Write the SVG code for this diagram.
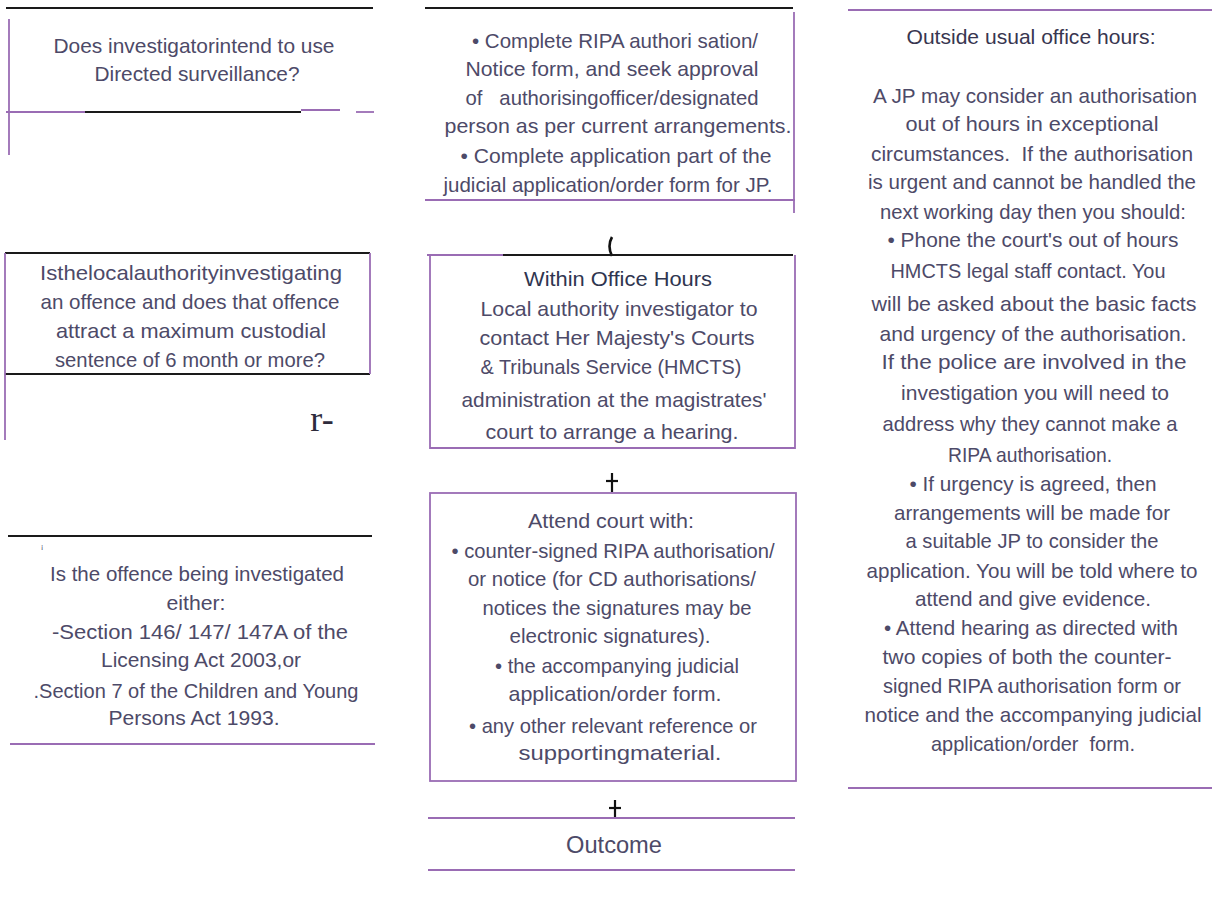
<svg xmlns="http://www.w3.org/2000/svg" width="1212" height="900" viewBox="0 0 1212 900">
<style>
text{font-family:"Liberation Sans",Arial,sans-serif;font-size:21px;fill:#4d4a68;text-anchor:middle;white-space:pre}
.k{stroke:#1a1a1a;stroke-width:2;fill:none}
.p{stroke:#9a6cb4;stroke-width:1.8;fill:none}
.ck{stroke:#111;stroke-width:2.2;fill:none}
</style>
<rect width="1212" height="900" fill="#fff"/>
<g id="connectors">
<line class="ck" x1="612" y1="473" x2="612" y2="492"/>
<line class="ck" x1="606" y1="481" x2="618" y2="481"/>
<line class="ck" x1="615" y1="800" x2="615" y2="818"/>
<line class="ck" x1="609" y1="808" x2="621" y2="808"/>
<path class="ck" style="stroke-width:2.6" d="M612 237 Q607 246 612 256"/>
</g>
<g id="node-directed">
<line class="k" x1="6" y1="8" x2="373" y2="8"/>
<line class="p" x1="9" y1="19" x2="9" y2="155"/>
<line class="p" x1="6" y1="112" x2="85" y2="112"/>
<line class="k" x1="85" y1="112" x2="301" y2="112"/>
<line class="p" x1="301" y1="110" x2="340" y2="110"/>
<line class="p" x1="356" y1="112" x2="374" y2="112"/>
<text x="194" y="53" textLength="281" lengthAdjust="spacingAndGlyphs">Does investigatorintend to use</text>
<text x="197" y="81" textLength="205" lengthAdjust="spacingAndGlyphs">Directed surveillance?</text>
</g>
<g id="node-offence">
<line class="k" x1="5" y1="253" x2="370" y2="253"/>
<line class="k" x1="5" y1="374" x2="370" y2="374"/>
<line class="p" x1="5" y1="253" x2="5" y2="440"/>
<line class="p" x1="370" y1="253" x2="370" y2="374"/>
<text x="191" y="280" textLength="302" lengthAdjust="spacingAndGlyphs">Isthelocalauthorityinvestigating</text>
<text x="190" y="309" textLength="299" lengthAdjust="spacingAndGlyphs">an offence and does that offence</text>
<text x="191" y="338" textLength="270" lengthAdjust="spacingAndGlyphs">attract a maximum custodial</text>
<text x="190" y="367" textLength="270" lengthAdjust="spacingAndGlyphs">sentence of 6 month or more?</text>
<text x="322" y="431" style="font-family:'Liberation Serif',serif;font-size:36px;fill:#2e2b3c">r-</text>
</g>
<g id="node-licensing">
<line class="k" x1="8" y1="536" x2="372" y2="536"/>
<text x="42" y="549" style="font-size:8px">¡</text>
<text x="197" y="581" textLength="294" lengthAdjust="spacingAndGlyphs">Is the offence being investigated</text>
<text x="196" y="610" textLength="59" lengthAdjust="spacingAndGlyphs">either:</text>
<text x="200" y="639" textLength="296" lengthAdjust="spacingAndGlyphs">-Section 146/ 147/ 147A of the</text>
<text x="201" y="667" textLength="200" lengthAdjust="spacingAndGlyphs">Licensing Act 2003,or</text>
<text x="196" y="698" textLength="325" lengthAdjust="spacingAndGlyphs">.Section 7 of the Children and Young</text>
<text x="194" y="725" textLength="171" lengthAdjust="spacingAndGlyphs">Persons Act 1993.</text>
<line class="p" x1="10" y1="744" x2="375" y2="744"/>
</g>
<g id="node-complete">
<line class="k" x1="425" y1="8" x2="793" y2="8"/>
<line class="p" x1="794" y1="12" x2="794" y2="213"/>
<line class="p" x1="425" y1="200" x2="795" y2="200"/>
<text x="615" y="48" textLength="286" lengthAdjust="spacingAndGlyphs">• Complete RIPA authori sation/</text>
<text x="612" y="76" textLength="293" lengthAdjust="spacingAndGlyphs">Notice form, and seek approval</text>
<text x="612" y="105" textLength="293" lengthAdjust="spacingAndGlyphs">of   authorisingofficer/designated</text>
<text x="618" y="133" textLength="347" lengthAdjust="spacingAndGlyphs">person as per current arrangements.</text>
<text x="616" y="163" textLength="311" lengthAdjust="spacingAndGlyphs">• Complete application part of the</text>
<text x="608" y="192" textLength="329" lengthAdjust="spacingAndGlyphs">judicial application/order form for JP.</text>
</g>
<g id="node-within">
<line class="p" x1="427" y1="255" x2="503" y2="255"/>
<line class="k" x1="503" y1="255" x2="793" y2="255"/>
<polyline class="p" points="430,255 430,448 795,448 795,255"/>
<text x="618" y="286" textLength="188" lengthAdjust="spacingAndGlyphs" style="fill:#2f3550">Within Office Hours</text>
<text x="619" y="316" textLength="277" lengthAdjust="spacingAndGlyphs">Local authority investigator to</text>
<text x="617" y="345" textLength="275" lengthAdjust="spacingAndGlyphs">contact Her Majesty's Courts</text>
<text x="611" y="374" textLength="261" lengthAdjust="spacingAndGlyphs">&amp; Tribunals Service (HMCTS)</text>
<text x="614" y="407" textLength="305" lengthAdjust="spacingAndGlyphs">administration at the magistrates'</text>
<text x="612" y="439" textLength="253" lengthAdjust="spacingAndGlyphs">court to arrange a hearing.</text>
</g>
<g id="node-attend">
<rect class="p" x="430" y="493" width="366" height="288"/>
<text x="611" y="528" textLength="166" lengthAdjust="spacingAndGlyphs">Attend court with:</text>
<text x="613" y="558" textLength="323" lengthAdjust="spacingAndGlyphs">• counter-signed RIPA authorisation/</text>
<text x="612" y="586" textLength="288" lengthAdjust="spacingAndGlyphs">or notice (for CD authorisations/</text>
<text x="617" y="615" textLength="269" lengthAdjust="spacingAndGlyphs">notices the signatures may be</text>
<text x="610" y="643" textLength="201" lengthAdjust="spacingAndGlyphs">electronic signatures).</text>
<text x="617" y="673" textLength="244" lengthAdjust="spacingAndGlyphs">• the accompanying judicial</text>
<text x="615" y="701" textLength="213" lengthAdjust="spacingAndGlyphs">application/order form.</text>
<text x="613" y="733" textLength="288" lengthAdjust="spacingAndGlyphs">• any other relevant reference or</text>
<text x="620" y="760" textLength="203" lengthAdjust="spacingAndGlyphs">supportingmaterial.</text>
</g>
<g id="node-outcome">
<line class="p" x1="428" y1="818" x2="795" y2="818"/>
<line class="p" x1="428" y1="870" x2="795" y2="870"/>
<text x="614" y="853" textLength="96" lengthAdjust="spacingAndGlyphs" style="font-size:23px">Outcome</text>
</g>
<g id="node-outside">
<line class="p" x1="848" y1="10" x2="1212" y2="10"/>
<line class="p" x1="848" y1="788" x2="1212" y2="788"/>
<text x="1031" y="44" textLength="249" lengthAdjust="spacingAndGlyphs" style="fill:#383650">Outside usual office hours:</text>
<text x="1035" y="103" textLength="324" lengthAdjust="spacingAndGlyphs">A JP may consider an authorisation</text>
<text x="1032" y="131" textLength="253" lengthAdjust="spacingAndGlyphs">out of hours in exceptional</text>
<text x="1032" y="161" textLength="322" lengthAdjust="spacingAndGlyphs">circumstances.  If the authorisation</text>
<text x="1032" y="189" textLength="328" lengthAdjust="spacingAndGlyphs">is urgent and cannot be handled the</text>
<text x="1033" y="219" textLength="306" lengthAdjust="spacingAndGlyphs">next working day then you should:</text>
<text x="1033" y="247" textLength="291" lengthAdjust="spacingAndGlyphs">• Phone the court's out of hours</text>
<text x="1028" y="278" textLength="275" lengthAdjust="spacingAndGlyphs">HMCTS legal staff contact. You</text>
<text x="1034" y="311" textLength="325" lengthAdjust="spacingAndGlyphs">will be asked about the basic facts</text>
<text x="1033" y="341" textLength="307" lengthAdjust="spacingAndGlyphs">and urgency of the authorisation.</text>
<text x="1034" y="369" textLength="305" lengthAdjust="spacingAndGlyphs">If the police are involved in the</text>
<text x="1035" y="400" textLength="268" lengthAdjust="spacingAndGlyphs">investigation you will need to</text>
<text x="1030" y="431" textLength="295" lengthAdjust="spacingAndGlyphs">address why they cannot make a</text>
<text x="1030" y="462" textLength="164" lengthAdjust="spacingAndGlyphs">RIPA authorisation.</text>
<text x="1033" y="491" textLength="247" lengthAdjust="spacingAndGlyphs">• If urgency is agreed, then</text>
<text x="1032" y="520" textLength="276" lengthAdjust="spacingAndGlyphs">arrangements will be made for</text>
<text x="1032" y="548" textLength="253" lengthAdjust="spacingAndGlyphs">a suitable JP to consider the</text>
<text x="1032" y="578" textLength="331" lengthAdjust="spacingAndGlyphs">application. You will be told where to</text>
<text x="1033" y="606" textLength="236" lengthAdjust="spacingAndGlyphs">attend and give evidence.</text>
<text x="1031" y="635" textLength="294" lengthAdjust="spacingAndGlyphs">• Attend hearing as directed with</text>
<text x="1027" y="664" textLength="289" lengthAdjust="spacingAndGlyphs">two copies of both the counter-</text>
<text x="1032" y="693" textLength="298" lengthAdjust="spacingAndGlyphs">signed RIPA authorisation form or</text>
<text x="1033" y="722" textLength="337" lengthAdjust="spacingAndGlyphs">notice and the accompanying judicial</text>
<text x="1033" y="751" textLength="204" lengthAdjust="spacingAndGlyphs">application/order  form.</text>
</g>
</svg>
